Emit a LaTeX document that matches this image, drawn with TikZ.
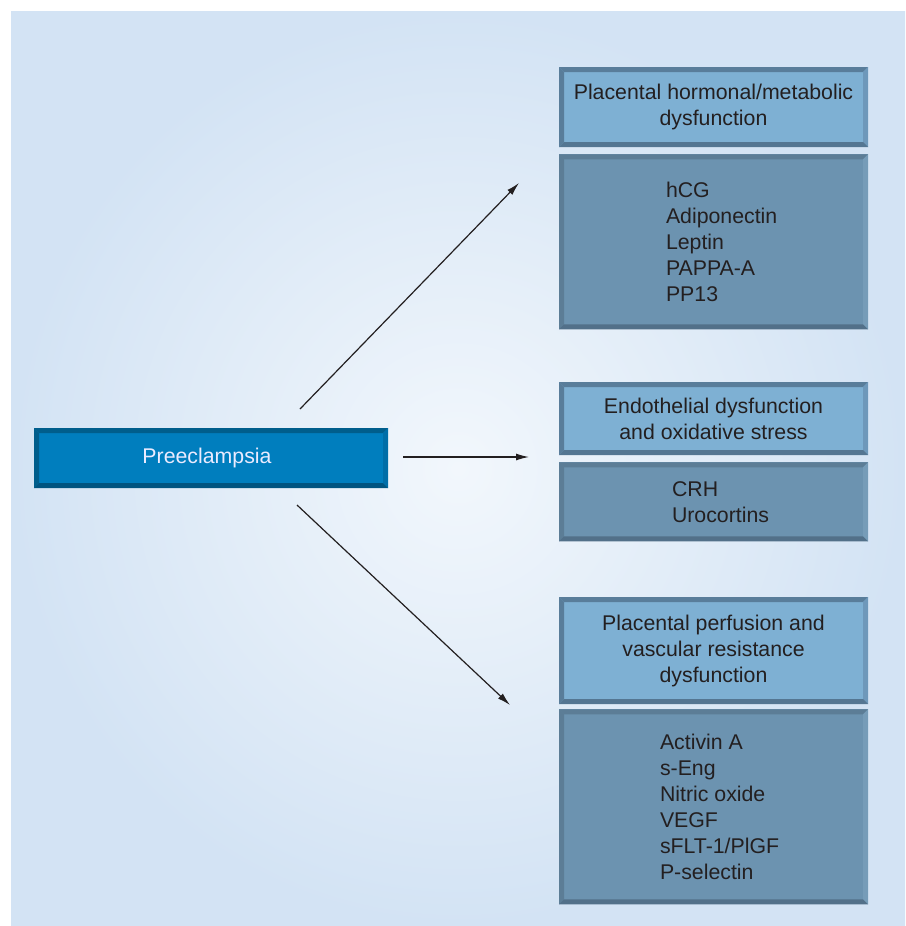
\documentclass[tikz,border=0pt]{standalone}
\usepackage{fontspec}
\setmainfont{Liberation Sans}
\usetikzlibrary{positioning,arrows.meta}

\definecolor{bgedge}{RGB}{211,227,244}
\definecolor{bgmid}{RGB}{242,247,252}
\definecolor{headface}{RGB}{126,176,211}
\definecolor{headdark}{RGB}{89,125,154}
\definecolor{headlight}{RGB}{110,152,186}
\definecolor{headbottom}{RGB}{84,118,146}
\definecolor{bodyface}{RGB}{108,147,176}
\definecolor{bodydark}{RGB}{92,125,150}
\definecolor{bodylight}{RGB}{118,156,184}
\definecolor{bodybottom}{RGB}{82,112,137}
\definecolor{preface}{RGB}{0,126,190}
\definecolor{predark}{RGB}{0,94,140}
\definecolor{prelight}{RGB}{0,110,168}
\definecolor{prebottom}{RGB}{0,84,128}
\definecolor{inktext}{RGB}{35,31,32}

\tikzset{
  bevel/.style n args={3}{path picture={
      \coordinate (nw) at (path picture bounding box.north west);
      \coordinate (ne) at (path picture bounding box.north east);
      \coordinate (sw) at (path picture bounding box.south west);
      \coordinate (se) at (path picture bounding box.south east);
      \fill[#1] (nw) -- (ne) -- ([shift={(-5pt,-5pt)}]ne) -- ([shift={(5pt,-5pt)}]nw) -- cycle;
      \fill[#1] (nw) -- ([shift={(5pt,-5pt)}]nw) -- ([shift={(5pt,5pt)}]sw) -- (sw) -- cycle;
      \fill[#2] (ne) -- (se) -- ([shift={(-5pt,5pt)}]se) -- ([shift={(-5pt,-5pt)}]ne) -- cycle;
      \fill[#3] (sw) -- ([shift={(5pt,5pt)}]sw) -- ([shift={(-5pt,5pt)}]se) -- (se) -- cycle;
  }},
  boxtext/.style={font=\fontsize{21.3}{26}\selectfont, text=inktext, inner sep=0pt},
  headbox/.style={boxtext, fill=headface, bevel={headdark}{headlight}{headbottom},
      minimum width=309pt, align=center},
  bodybox/.style={fill=bodyface, bevel={bodydark}{bodylight}{bodybottom},
      minimum width=309pt, inner sep=0pt},
  listtext/.style={boxtext, align=left, anchor=west},
  prebox/.style={boxtext, text=white!92!blue, fill=preface, bevel={predark}{prelight}{prebottom},
      minimum width=354pt, minimum height=60pt},
  arrow/.style={-{Latex[length=13pt,width=7pt]}, line width=1.2pt, inktext}
}

\begin{document}
\begin{tikzpicture}[x=1pt,y=-1pt]
  \useasboundingbox (0,0) rectangle (905,926);
  % backdrop
  \fill[white] (0,0) rectangle (905,926);
  \shade[inner color=bgmid, outer color=bgedge] (11,11) rectangle (905,926);

  \node[prebox] (pre) at (211,458) {\hspace*{-8pt}Preeclampsia};

  \node[headbox, minimum height=80pt] (h1) at (713.5,107) {Placental hormonal/metabolic\\dysfunction};
  \node[bodybox, minimum height=175pt, below=7pt of h1] (b1) {};
  \node[listtext] (l1) at ([xshift=107pt]b1.west) {hCG\\Adiponectin\\Leptin\\PAPPA-A\\PP13};

  \node[headbox, minimum height=73pt] (h2) at (713.5,418.5) {Endothelial dysfunction\\and oxidative stress};
  \node[bodybox, minimum height=79pt, below=7pt of h2] (b2) {};
  \node[listtext] (l2) at ([xshift=113pt]b2.west) {CRH\\Urocortins};

  \node[headbox, minimum height=107pt] (h3) at (713.5,650.5) {Placental perfusion and\\vascular resistance\\dysfunction};
  \node[bodybox, minimum height=195pt, below=5pt of h3] (b3) {};
  \node[listtext] (l3) at ([xshift=101pt]b3.west) {Activin A\\s-Eng\\Nitric oxide\\VEGF\\sFLT-1/PlGF\\P-selectin};

  % arrow ends
  \coordinate (up0) at (300,409);
  \coordinate (up1) at (519,183);
  \coordinate (mid0) at (403,457);
  \coordinate (mid1) at (529,457);
  \coordinate (dn0) at (297,505);
  \coordinate (dn1) at (510,705);

  \draw[arrow] (up0) -- (up1);
  \draw[arrow] (mid0) -- (mid1);
  \draw[arrow] (dn0) -- (dn1);
\end{tikzpicture}
\end{document}
